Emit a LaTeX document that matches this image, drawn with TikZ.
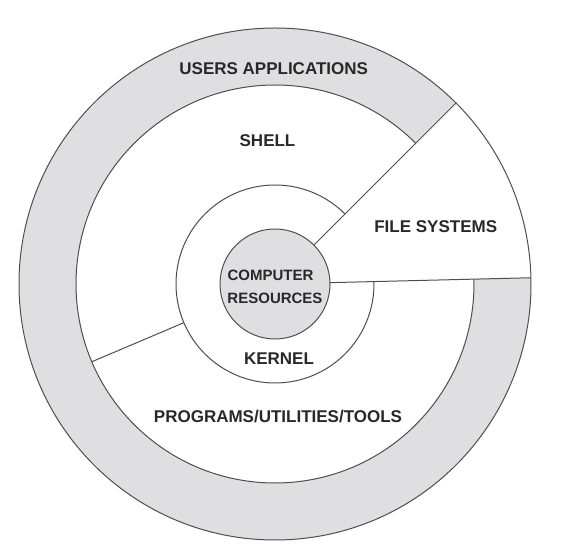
\documentclass[tikz,border=0pt]{standalone}
\usepackage{fontspec}
\setmainfont{Liberation Sans}
\definecolor{ringgray}{RGB}{223,223,225}
\definecolor{edgegray}{RGB}{78,78,78}
\definecolor{inkgray}{RGB}{40,40,40}
\begin{document}
\begin{tikzpicture}[x=1pt,y=1pt,
  edge/.style={draw=edgegray,line width=1pt},
  lbl/.style={anchor=base,inner sep=0pt,text=inkgray,font=\fontsize{17}{17}\selectfont\bfseries},
  smalllbl/.style={anchor=base,inner sep=0pt,text=inkgray,font=\fontsize{15}{15}\selectfont\bfseries}]
\useasboundingbox (0,0) rectangle (566,549);
% radii of the layers and the angles of the dividers
\def\rcore{55}\def\rkern{99}\def\rshell{199}\def\router{256}
\def\afs{45}\def\afe{361.4}\def\aprog{203}
\coordinate (c) at (275,265);
\begin{scope}[shift={(c)}]
  % users applications ring (open where the file systems wedge cuts through)
  \fill[ringgray] (\afs:\router) arc[start angle=\afs,end angle=\afe,radius=\router]
    -- (\afe:\rshell) arc[start angle=\afe,end angle=\afs,radius=\rshell] -- cycle;
  % outer boundary
  \draw[edge] (0,0) circle[radius=\router];
  % shell / applications boundary and kernel boundary
  \draw[edge] (\afs:\rshell) arc[start angle=\afs,end angle=\afe,radius=\rshell];
  \draw[edge] (\afs:\rkern) arc[start angle=\afs,end angle=\afe,radius=\rkern];
  % file systems wedge edges
  \coordinate (fsa) at (\afs:\rcore);
  \coordinate (fsb) at (\afs:\router);
  \coordinate (fsc) at (\afe:\rcore);
  \coordinate (fsd) at (\afe:\router);
  \draw[edge] (fsa) -- (fsb);
  \draw[edge] (fsc) -- (fsd);
  % divider between shell and programs
  \coordinate (pa) at (\aprog:\rkern);
  \coordinate (pb) at (\aprog:\rshell);
  \draw[edge] (pa) -- (pb);
  % computer resources core
  \draw[edge,fill=ringgray] (0,0) circle[radius=\rcore];
\end{scope}
% labels
\node[lbl] (apps) at (273.7,474.7) {USERS APPLICATIONS};
\node[lbl] (shell) at (267.5,402.3) {SHELL};
\node[lbl] (fs) at (435.7,316.3) {FILE SYSTEMS};
\node[smalllbl] (comp) at (270.5,268.3) {COMPUTER};
\node[smalllbl] (res) at (275,245.7) {RESOURCES};
\node[lbl] (kernel) at (279,184) {KERNEL};
\node[lbl] (prog) at (278,126.3) {PROGRAMS/UTILITIES/TOOLS};
\end{tikzpicture}
\end{document}
